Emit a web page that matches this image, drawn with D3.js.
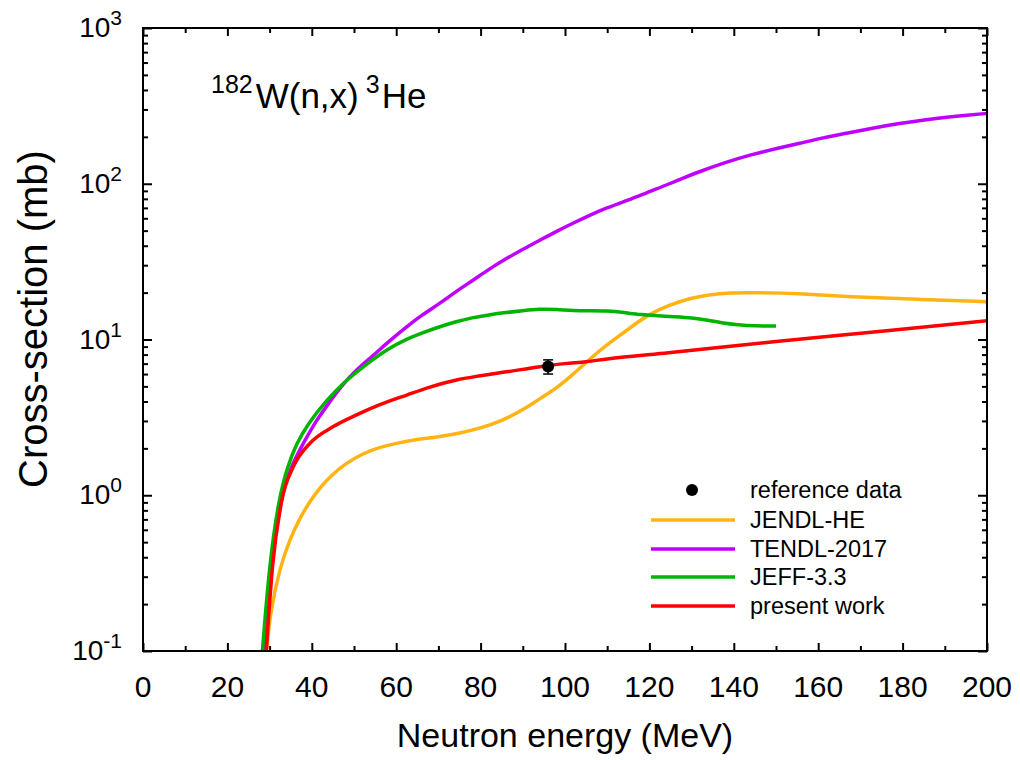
<!DOCTYPE html>
<html>
<head>
<meta charset="utf-8">
<script src="https://cdn.jsdelivr.net/npm/d3@7"></script>
<style>
  html, body { margin: 0; padding: 0; background: #fff; }
  svg { display: block; font-family: "Liberation Sans", Arial, sans-serif; }
</style>
</head>
<body>
<svg id="chart" width="1020" height="760"></svg>
<script>
// Neutron energy grids (MeV) and cross-sections (mb) for each evaluation
const tendlE = [28.5, 30.3, 32.5, 35, 38, 41, 44, 47, 50, 54.6, 58, 62.5, 66, 70.4, 74, 78.3, 82, 86.2, 90, 94.1, 98, 102, 106, 109.9, 114, 117.8, 120, 124, 128, 132, 138, 143.8, 150, 155.7, 161, 167.5, 173, 179.4, 185, 191.2, 196, 200];
const tendlV = [0.1, 0.35, 0.93, 1.52, 2.16, 3.0, 3.9, 5.0, 6.2, 7.9, 9.6, 12.1, 14.3, 17.1, 20.2, 24.1, 28.3, 33.2, 38, 43.5, 49.5, 56, 63, 70, 77, 84, 89, 98, 109, 120, 137, 153, 168, 182, 197, 213, 228, 244, 257, 269, 277, 283];

const jeffE = [28.3, 29.9, 32.1, 34.2, 36.4, 39, 43.5, 48.3, 50, 54.6, 58, 62.5, 66, 70, 74, 78, 82, 86, 90, 94, 98, 102, 106, 110, 114, 118, 122, 126, 130, 134, 137, 141, 145, 150];
const jeffV = [0.1, 0.35, 0.93, 1.52, 2.16, 2.85, 4.1, 5.5, 6.0, 7.5, 8.7, 10.1, 11.0, 12.0, 13.0, 13.8, 14.4, 14.9, 15.3, 15.7, 15.6, 15.3, 15.3, 15.3, 14.9, 14.4, 14.2, 14.0, 13.8, 13.3, 12.8, 12.4, 12.2, 12.2];

const jendlE = [29.3, 30.1, 32.5, 34.8, 37, 39.6, 42, 44.3, 48, 52.2, 56, 60.1, 64, 67.2, 70.4, 75, 79.9, 85, 90.1, 94.1, 98, 102, 105.9, 110, 113.8, 117, 120.1, 124.9, 129.6, 134, 139.1, 145, 154.9, 167.5, 183.3, 200];
const jendlV = [0.1, 0.175, 0.35, 0.52, 0.7, 0.92, 1.12, 1.32, 1.6, 1.86, 2.03, 2.16, 2.26, 2.32, 2.38, 2.5, 2.69, 3.0, 3.53, 4.19, 4.86, 6.0, 7.5, 9.3, 11, 12.8, 14.6, 16.7, 18.4, 19.4, 20, 20, 19.8, 18.8, 18.1, 17.5];

const presentE = [29.2, 30.7, 32.9, 35.6, 39.6, 45, 50.6, 56, 62.5, 68, 74.3, 80, 86.2, 94.1, 100, 105, 110, 124.5, 150, 175, 200];
const presentV = [0.1, 0.35, 0.93, 1.52, 2.16, 2.75, 3.28, 3.8, 4.4, 4.95, 5.5, 5.85, 6.2, 6.69, 7.0, 7.2, 7.5, 8.23, 9.7, 11.3, 13.2];

// Measured point with its uncertainty
const refE = [96];
const refV = [6.7];
const refErr = [0.7];

// Axis ticks
const xMajorTicks = [0, 20, 40, 60, 80, 100, 120, 140, 160, 180, 200];
const xMinorTicks = [10, 30, 50, 70, 90, 110, 130, 150, 170, 190];
const yDecades = [0.1, 1, 10, 100, 1000];
const yExponents = ["-1", "0", "1", "2", "3"];

const seriesNames = ["JENDL-HE", "TENDL-2017", "JEFF-3.3", "present work"];
const seriesColors = ["#ffb414", "#c000ff", "#00b400", "#ff0000"];

const svg = d3.select("#chart");
const M = { left: 143, right: 987, top: 28, bottom: 651 };

const x = d3.scaleLinear().domain([0, 200]).range([M.left, M.right]);
const y = d3.scaleLog().domain([0.1, 1000]).range([M.bottom, M.top]);

svg.append("defs").append("clipPath").attr("id", "plotclip")
  .append("rect").attr("x", M.left).attr("y", M.top)
  .attr("width", M.right - M.left).attr("height", M.bottom - M.top);

// Curves: smooth evaluations, the fitted curve keeps its knee at 40 MeV
const smooth = d3.line().x(d => x(d[0])).y(d => y(d[1])).curve(d3.curveBasis);
const sharp = d3.line().x(d => x(d[0])).y(d => y(d[1])).curve(d3.curveMonotoneX);
const series = [
  { E: jendlE, V: jendlV, gen: smooth },
  { E: tendlE, V: tendlV, gen: smooth },
  { E: jeffE, V: jeffV, gen: smooth },
  { E: presentE, V: presentV, gen: sharp }
];
const curves = svg.append("g").attr("clip-path", "url(#plotclip)");
series.forEach((s, i) => {
  curves.append("path")
    .datum(s.E.map((e, k) => [e, s.V[k]]))
    .attr("d", s.gen)
    .attr("fill", "none")
    .attr("stroke", seriesColors[i])
    .attr("stroke-width", 3.5)
    .attr("stroke-linejoin", "round");
});

// Reference data point with error bar
const pts = svg.append("g");
refE.forEach((e, i) => {
  const cx = x(e), lo = y(refV[i] - refErr[i]), hi = y(refV[i] + refErr[i]);
  pts.append("line").attr("x1", cx).attr("x2", cx).attr("y1", lo).attr("y2", hi)
    .attr("stroke", "#000").attr("stroke-width", 1.5);
  [lo, hi].forEach(yy => pts.append("line")
    .attr("x1", cx - 5).attr("x2", cx + 5).attr("y1", yy).attr("y2", yy)
    .attr("stroke", "#000").attr("stroke-width", 1.5));
  pts.append("circle").attr("cx", cx).attr("cy", y(refV[i])).attr("r", 6).attr("fill", "#000");
});

// Frame and inward ticks
const axes = svg.append("g").attr("stroke", "#000").attr("stroke-width", 2);
axes.append("rect").attr("x", M.left).attr("y", M.top)
  .attr("width", M.right - M.left).attr("height", M.bottom - M.top).attr("fill", "none");

const xAxisB = d3.axisBottom(x).tickValues(xMajorTicks).tickSize(-8).tickFormat("");
const xAxisT = d3.axisTop(x).tickValues(xMajorTicks).tickSize(-8).tickFormat("");
const xMinB = d3.axisBottom(x).tickValues(xMinorTicks).tickSize(-5).tickFormat("");
const xMinT = d3.axisTop(x).tickValues(xMinorTicks).tickSize(-5).tickFormat("");
[[xAxisB, M.bottom], [xMinB, M.bottom], [xAxisT, M.top], [xMinT, M.top]].forEach(([ax, ty]) => {
  const g = svg.append("g").attr("transform", `translate(0,${ty})`).call(ax);
  g.select(".domain").remove();
  g.selectAll("line").attr("stroke", "#000").attr("stroke-width", 2);
});

const yMinor = [];
yDecades.slice(0, -1).forEach(d => { for (let k = 2; k <= 9; k++) yMinor.push(d * k); });
const yAxL = d3.axisLeft(y).tickValues(yDecades).tickSize(-9).tickFormat("");
const yAxR = d3.axisRight(y).tickValues(yDecades).tickSize(-9).tickFormat("");
const yMinL = d3.axisLeft(y).tickValues(yMinor).tickSize(-5).tickFormat("");
const yMinR = d3.axisRight(y).tickValues(yMinor).tickSize(-5).tickFormat("");
[[yAxL, M.left], [yMinL, M.left], [yAxR, M.right], [yMinR, M.right]].forEach(([ax, tx]) => {
  const g = svg.append("g").attr("transform", `translate(${tx},0)`).call(ax);
  g.select(".domain").remove();
  g.selectAll("line").attr("stroke", "#000").attr("stroke-width", 2);
});

// Tick labels
svg.append("g").selectAll("text").data(xMajorTicks).join("text")
  .attr("x", d => x(d)).attr("y", 697)
  .attr("text-anchor", "middle").attr("font-size", 30).attr("fill", "#000")
  .text(d => d);

const yl = svg.append("g").selectAll("text").data(yDecades).join("text")
  .attr("x", M.left - 21).attr("y", d => y(d) + 9)
  .attr("text-anchor", "end").attr("font-size", 28).attr("fill", "#000");
yl.append("tspan").text("10");
yl.append("tspan").attr("dy", -12).attr("font-size", 21).text((d, i) => yExponents[i]);

// Axis titles
svg.append("text").attr("x", (M.left + M.right) / 2).attr("y", 747)
  .attr("text-anchor", "middle").attr("font-size", 34).attr("fill", "#000")
  .text("Neutron energy (MeV)");
svg.append("text").attr("transform", "translate(47,319) rotate(-90)")
  .attr("text-anchor", "middle").attr("font-size", 40).attr("fill", "#000")
  .text("Cross-section (mb)");

// Reaction label
const rt = svg.append("text").attr("x", 211).attr("y", 108).attr("font-size", 35).attr("fill", "#000");
rt.append("tspan").attr("font-size", 25).attr("dy", -15).text("182");
rt.append("tspan").attr("dy", 15).attr("dx", 3).text("W(n,x)");
rt.append("tspan").attr("font-size", 25).attr("dy", -15).attr("dx", 7).text("3");
rt.append("tspan").attr("dy", 15).attr("dx", 2).text("He");

// Legend
const legendLabels = ["reference data"].concat(seriesNames);
const legendY = [490, 520, 549, 577, 606];
const lg = svg.append("g");
lg.append("circle").attr("cx", 692).attr("cy", legendY[0]).attr("r", 6).attr("fill", "#000");
seriesNames.forEach((n, i) => {
  lg.append("line").attr("x1", 651).attr("x2", 735)
    .attr("y1", legendY[i + 1]).attr("y2", legendY[i + 1])
    .attr("stroke", seriesColors[i]).attr("stroke-width", 3.5);
});
lg.selectAll("text").data(legendLabels).join("text")
  .attr("x", 750).attr("y", (d, i) => legendY[i] + 8)
  .attr("font-size", 23.5).attr("fill", "#000")
  .text(d => d);
</script>
</body>
</html>
